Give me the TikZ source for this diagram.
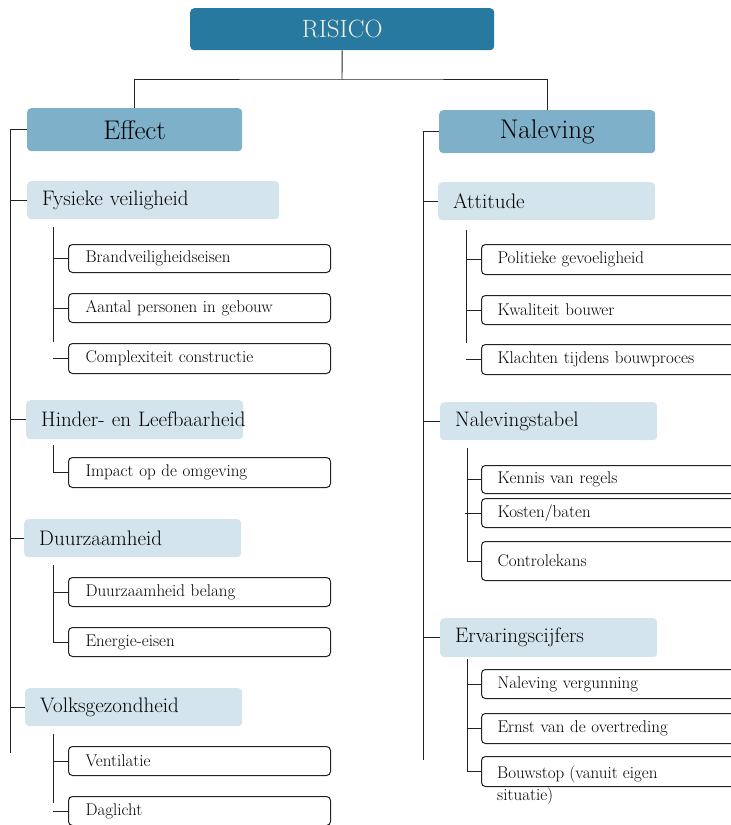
\documentclass[tikz,border=0pt]{standalone}
\definecolor{topblue}{HTML}{28799F}
\definecolor{midblue}{HTML}{7FB0C9}
\definecolor{lightblue}{HTML}{D4E4EC}
\definecolor{toptext}{HTML}{F2EEDD}
\definecolor{linegray}{HTML}{222222}
\begin{document}
\begin{tikzpicture}[x=1pt,y=-1pt,
  topbox/.style={fill=topblue,rounded corners=4pt,anchor=north west,inner sep=0pt,
    text=toptext,font=\fontsize{25}{29}\selectfont},
  mainbox/.style={fill=midblue,rounded corners=4pt,anchor=north west,inner sep=0pt,
    font=\fontsize{27}{31}\selectfont},
  catbox/.style={fill=lightblue,rounded corners=4pt,anchor=north west,inner xsep=15pt,
    inner ysep=0pt,align=left,font=\fontsize{21}{24}\selectfont},
  itembox/.style={draw=linegray,line width=1pt,fill=white,rounded corners=4pt,
    anchor=north west,inner ysep=0pt,align=left,font=\fontsize{17}{20}\selectfont},
  litem/.style={itembox,inner xsep=17pt,text width=228pt},
  ritem/.style={itembox,inner xsep=16pt,text width=268pt},
  conn/.style={draw=linegray,line width=0.9pt}]
\useasboundingbox (0,0) rectangle (731,825);
\clip (0,0) rectangle (731,825);

% ---- top levels
\node[topbox,minimum width=304pt,minimum height=42pt] (risico) at (190,8) {RISICO};
\node[mainbox,minimum width=215pt,minimum height=43pt] (effect) at (27,108) {Effect};
\node[mainbox,minimum width=216pt,minimum height=43pt] (naleving) at (439,110) {Naleving};

% ---- Effect categories
\node[catbox,minimum height=38pt,text width=222pt] (fys) at (27,181) {Fysieke veiligheid};
\node[catbox,minimum height=39pt,text width=187pt] (hinder) at (26,400) {\mbox{Hinder- en Leefbaarheid}};
\node[catbox,minimum height=38pt,text width=187pt] (duur) at (24,519) {Duurzaamheid};
\node[catbox,minimum height=38pt,text width=187pt] (volks) at (25,688) {Volksgezondheid};

% ---- Naleving categories
\node[catbox,minimum height=38pt,text width=187pt] (att) at (438,182) {Attitude};
\node[catbox,minimum height=38pt,text width=187pt] (naltab) at (440,402) {Nalevingstabel};
\node[catbox,minimum height=39pt,text width=187pt] (erv) at (440,618) {Ervaringscijfers};

% ---- Effect items
\node[litem,minimum height=28pt] (brand) at (68,244) {Brandveiligheidseisen};
\node[litem,minimum height=29pt] (aantal) at (68,293) {Aantal personen in gebouw};
\node[litem,minimum height=30pt] (complex) at (68,343) {Complexiteit constructie};
\node[litem,minimum height=30pt] (impact) at (68,457) {Impact op de omgeving};
\node[litem,minimum height=29pt] (duurbel) at (68,577) {Duurzaamheid belang};
\node[litem,minimum height=29pt] (energie) at (68,627) {Energie-eisen};
\node[litem,minimum height=29pt] (vent) at (68,746) {Ventilatie};
\node[litem,minimum height=29pt] (dag) at (68,796) {Daglicht};

% ---- Naleving items
\node[ritem,minimum height=30pt] (polit) at (481,244) {Politieke gevoeligheid};
\node[ritem,minimum height=29pt] (kwal) at (481,295) {Kwaliteit bouwer};
\node[ritem,minimum height=30pt] (klacht) at (481,344) {Klachten tijdens bouwproces};
\node[ritem,minimum height=28pt] (kennis) at (481,465) {Kennis van regels};
\node[ritem,minimum height=29pt] (kosten) at (481,498) {Kosten/baten};
\node[ritem,minimum height=39pt] (contr) at (481,541) {Controlekans};
\node[ritem,minimum height=29pt] (nalverg) at (481,669) {Naleving vergunning};
\node[ritem,minimum height=30pt] (ernst) at (481,713) {Ernst van de overtreding};
\node[ritem,minimum height=30pt] (bouw) at (481,756) {};
\node[anchor=north west,inner sep=0pt,align=left,font=\fontsize{17}{22}\selectfont]
  (bouwtxt) at (497,766) {Bouwstop (vanuit eigen\\situatie)};

% ---- connectors: root to main branches
\coordinate (rj) at (342,79);
\draw[conn] (risico.south) -- (rj);
\draw[conn] (effect.north) |- (rj) -| (naleving.north);

% ---- left spine
\coordinate (lspine) at (10,753);
\draw[conn] (effect.west) -| (lspine);
\foreach \c in {fys,hinder,duur,volks}
  \draw[conn] (\c.west) -- (\c.west -| lspine);

% ---- right spine
\coordinate (rspine) at (423,760);
\draw[conn] (naleving.west) -| (rspine);
\foreach \c in {att,naltab,erv}
  \draw[conn] (\c.west) -- (\c.west -| rspine);

% ---- Fysieke veiligheid
\coordinate (fa) at (53,227); \coordinate (fb) at (53,342);
\draw[conn] (fa) -- (fb);
\foreach \c in {brand,aantal,complex}
  \draw[conn] (\c.west) -- (\c.west -| fa);

% ---- Hinder- en Leefbaarheid
\coordinate (ha) at (53,445);
\draw[conn] (ha) |- (impact.west);

% ---- Duurzaamheid
\coordinate (da) at (53,565);
\draw[conn] (da) |- (energie.west);
\draw[conn] (duurbel.west) -- (duurbel.west -| da);

% ---- Volksgezondheid
\coordinate (va) at (53,734); \coordinate (vb) at (53,803);
\draw[conn] (va) -- (vb);
\foreach \c in {vent,dag}
  \draw[conn] (\c.west) -- (\c.west -| va);

% ---- Attitude
\coordinate (aa) at (466,230); \coordinate (ab) at (466,343);
\draw[conn] (aa) -- (ab);
\foreach \c in {polit,kwal,klacht}
  \draw[conn] (\c.west) -- (\c.west -| aa);

% ---- Nalevingstabel
\coordinate (na) at (467,448);
\draw[conn] (na) |- (contr.west);
\draw[conn] (kennis.west) -- (kennis.west -| na);
\draw[conn] (kosten.west) -- ++(-16,0);

% ---- Ervaringscijfers
\coordinate (ea) at (467,659);
\draw[conn] (ea) |- (bouw.west);
\foreach \c in {nalverg,ernst}
  \draw[conn] (\c.west) -- (\c.west -| ea);
\end{tikzpicture}
\end{document}
